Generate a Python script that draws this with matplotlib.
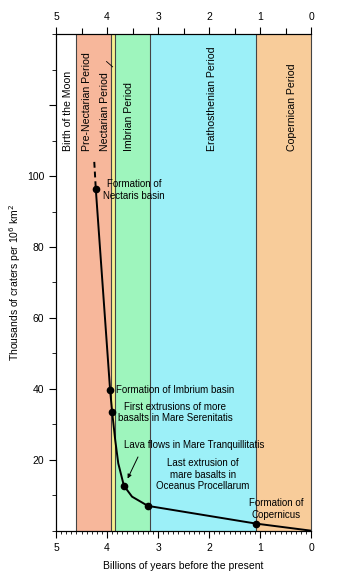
import matplotlib.pyplot as plt
from matplotlib.ticker import MultipleLocator

plt.rcParams['font.family'] = ['Liberation Sans', 'DejaVu Sans']

# Periods (billions of years before present)
period_names = ['Birth of the Moon', 'Pre-Nectarian Period', 'Nectarian Period',
                'Imbrian Period', 'Erathosthenian Period', 'Copernican Period']
period_start = [5.0, 4.61, 3.93, 3.84, 3.16, 1.09]
period_end = [4.61, 3.93, 3.84, 3.16, 1.09, 0.0]
period_colors = ['#ffffff', '#f7b79b', '#f6f08e', '#9ef5bd', '#9cf0f8', '#f8cc9a']
label_x = [4.77, 4.39, 4.04, 3.57, 1.94, 0.37]

# crater density curve
curve_age = [4.22, 3.94, 3.90, 3.84, 3.78, 3.71, 3.67, 3.51, 3.20, 1.08, 0.0]
curve_density = [96.3, 39.7, 33.5, 25.6, 19.0, 15.0, 12.7, 9.6, 7.0, 2.0, 0.0]
dash_age = [4.25, 4.22]
dash_density = [104.0, 96.3]

# events with dots
event_age = [4.22, 3.94, 3.90, 3.67, 3.20, 1.08]
event_density = [96.3, 39.7, 33.5, 12.7, 7.0, 2.0]

fig = plt.figure(figsize=(3.5, 5.8), dpi=100)
ax = fig.add_axes([0.16, 0.085, 0.729, 0.856])

for s, e, c in zip(period_start, period_end, period_colors):
    ax.axvspan(e, s, color=c, zorder=0, lw=0)
for b in period_start[1:]:
    ax.axvline(b, color='#444444', lw=0.8, zorder=1)

for name, x in zip(period_names, label_x):
    ax.text(x, 107.0, name, rotation=90, ha='center', va='bottom', fontsize=7.6, zorder=3)
# leader for the narrow Nectarian band
ax.plot([4.01, 3.89], [132.3, 130.8], color='black', lw=0.6, zorder=3)

ax.plot(curve_age, curve_density, color='black', lw=1.4, zorder=4)
ax.plot(dash_age, dash_density, color='black', lw=1.4, ls=(0, (3, 2)), zorder=4)
ax.plot(event_age, event_density, 'o', color='black', ms=4.5, zorder=5)

fs = 7
ax.text(3.47, 96, 'Formation of\nNectaris basin', ha='center', va='center', fontsize=fs, zorder=6)
ax.text(3.83, 39.7, 'Formation of Imbrium basin', ha='left', va='center', fontsize=fs, zorder=6)
ax.text(2.67, 33.3, 'First extrusions of more\nbasalts in Mare Serenitatis', ha='center', va='center',
        fontsize=fs, zorder=6)
ax.text(3.67, 24.2, 'Lava flows in Mare Tranquillitatis', ha='left', va='center', fontsize=fs, zorder=6)
ax.annotate('', xy=(3.62, 14.0), xytext=(3.37, 21.5),
            arrowprops=dict(arrowstyle='-|>', color='black', lw=0.7, mutation_scale=6), zorder=6)
ax.text(2.12, 15.8, 'Last extrusion of\nmare basalts in\nOceanus Procellarum', ha='center', va='center',
        fontsize=fs, zorder=6)
ax.text(0.69, 6.2, 'Formation of\nCopernicus', ha='center', va='center', fontsize=fs, zorder=6)

ax.set_xlim(5, 0)
ax.set_ylim(0, 140)
ax.xaxis.set_major_locator(MultipleLocator(1))
ax.xaxis.set_minor_locator(MultipleLocator(0.1))
ax.yaxis.set_minor_locator(MultipleLocator(10))
ax.set_yticks([20, 40, 60, 80, 100, 120])
ax.set_yticklabels(['20', '40', '60', '80', '100', ''])
ax.tick_params(axis='both', labelsize=7.5, length=5, width=0.8)
ax.tick_params(axis='x', which='minor', length=2.5, width=0.6)
ax.tick_params(axis='y', which='minor', length=3, width=0.6)
ax.xaxis.set_major_formatter(plt.FuncFormatter(lambda v, p: f'{v:.0f}'))

top = ax.twiny()
top.set_xlim(5, 0)
top.xaxis.set_major_locator(MultipleLocator(1))
top.xaxis.set_minor_locator(MultipleLocator(0.5))
top.tick_params(labelsize=7.5, length=5, width=0.8, pad=4)
top.tick_params(which='minor', length=4, width=0.8)
top.xaxis.set_major_formatter(plt.FuncFormatter(lambda v, p: f'{v:.0f}'))

ax.spines['right'].set_linewidth(0.8)
ax.spines['right'].set_color('#444444')
top.spines['right'].set_visible(False)

ax.set_xlabel('Billions of years before the present', fontsize=7.5, labelpad=6)
ax.set_ylabel('Thousands of craters per 10$^6$ km$^2$', fontsize=7.5, labelpad=3)

fig.savefig('out.png', dpi=100)
